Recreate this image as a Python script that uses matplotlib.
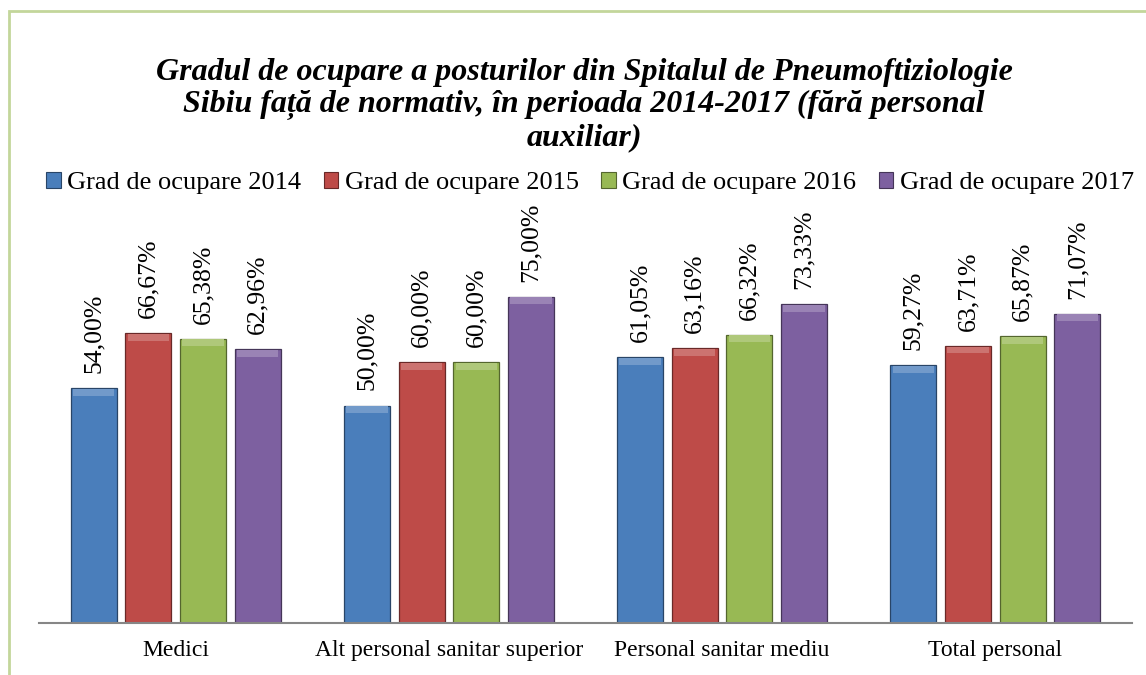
import matplotlib.pyplot as plt
import numpy as np
from matplotlib.patches import Patch, Rectangle
from matplotlib.colors import to_rgb

categories = ["Medici", "Alt personal sanitar superior", "Personal sanitar mediu", "Total personal"]
series_names = ["Grad de ocupare 2014", "Grad de ocupare 2015", "Grad de ocupare 2016", "Grad de ocupare 2017"]
v2014 = [54.00, 50.00, 61.05, 59.27]
v2015 = [66.67, 60.00, 63.16, 63.71]
v2016 = [65.38, 60.00, 66.32, 65.87]
v2017 = [62.96, 75.00, 73.33, 71.07]
colors = ["#4a7ebb", "#be4b48", "#98b954", "#7d60a0"]

title = ("Gradul de ocupare a posturilor din Spitalul de Pneumoftiziologie\n"
         "Sibiu față de normativ, în perioada 2014-2017 (fără personal\n"
         "auxiliar)")

plt.rcParams['font.family'] = ['Liberation Serif', 'DejaVu Serif']


def shade(c, f):
    r, g, b = to_rgb(c)
    if f > 0:
        return (r + (1 - r) * f, g + (1 - g) * f, b + (1 - b) * f)
    return (r * (1 + f), g * (1 + f), b * (1 + f))


fig = plt.figure(figsize=(11.46, 6.75), dpi=100)
W, H = 1146, 675
ax = fig.add_axes([39 / W, 1 - 623 / H, (1132 - 39) / W, (623 - 275) / H])

# chart frame
fig.patches.append(Rectangle((9 / W, -0.05), 1.2, 1 - 11 / H + 0.05, transform=fig.transFigure,
                             fill=False, edgecolor="#c3d69b", linewidth=2))

x = np.arange(len(categories))
width = 0.168
step = 0.2
bevel = 1.6
all_vals = [v2014, v2015, v2016, v2017]
for i, (vals, col) in enumerate(zip(all_vals, colors)):
    pos = x + (i - 1.5) * step
    ax.bar(pos, vals, width, color=col, edgecolor=shade(col, -0.45), linewidth=0.9, zorder=2)
    # bevel highlight on top of each bar
    ax.bar(pos, [bevel] * len(vals), width * 0.9, bottom=[v - bevel - 0.15 for v in vals],
           color=shade(col, 0.22), linewidth=0, zorder=3)
    for p, v in zip(pos, vals):
        ax.annotate(f"{v:.2f}%".replace(".", ","), (p, v), xytext=(0, 15), textcoords="offset pixels",
                    rotation=90, ha="center", va="bottom", fontsize=18.5, color="black")

ax.set_xlim(-0.5, 3.5)
ax.set_ylim(0, 80)
ax.set_yticks([])
for s in ["top", "right", "left"]:
    ax.spines[s].set_visible(False)
ax.spines["bottom"].set_color("#868686")
ax.spines["bottom"].set_linewidth(1.5)
ax.set_xticks(x)
ax.set_xticklabels(categories, fontsize=17)
ax.tick_params(axis="x", length=0, pad=12)
ax.patch.set_alpha(0)

handles = [Patch(facecolor=c, edgecolor=shade(c, -0.45), linewidth=0.8) for c in colors]
fig.legend(handles, series_names, loc="center", bbox_to_anchor=(590 / W, 1 - 183 / H), ncol=4,
           frameon=False, fontsize=19, handlelength=0.55, handleheight=0.55, handletextpad=0.25,
           columnspacing=0.85, borderpad=0)

fig.text(584 / W, 1 - 105 / H, title, ha="center", va="center", fontsize=23, fontweight="bold",
         fontstyle="italic", linespacing=1.13)

fig.savefig("out.png", dpi=100)
